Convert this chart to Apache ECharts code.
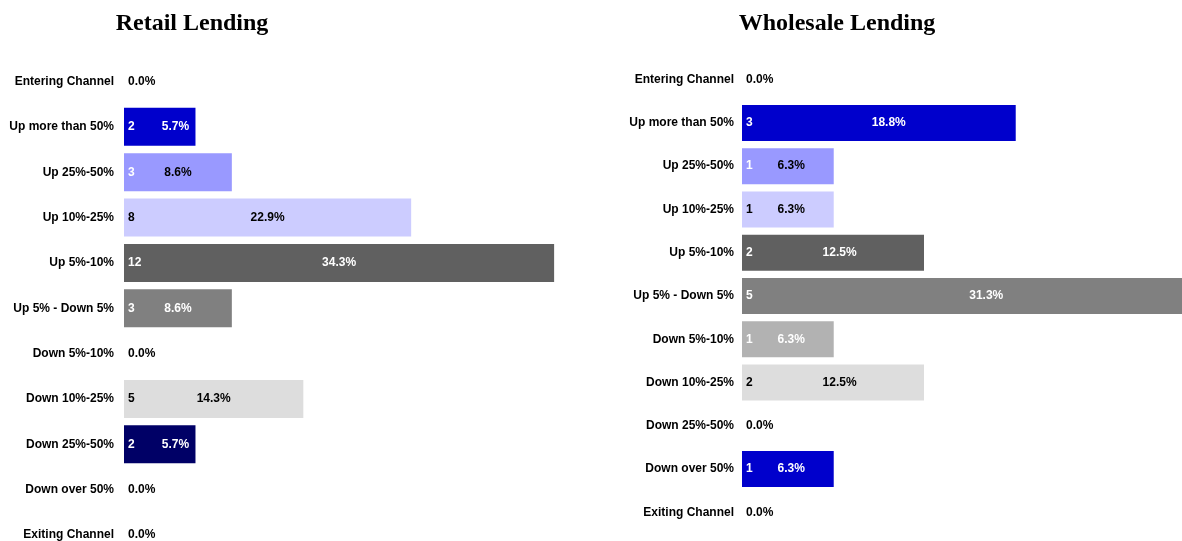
<!DOCTYPE html>
<html>
<head>
<meta charset="utf-8">
<title>Retail and Wholesale Lending</title>
<script src="https://cdn.jsdelivr.net/npm/echarts@6/dist/echarts.min.js"></script>
<style>
  html, body { margin: 0; padding: 0; background: #fff; }
  #chart { width: 1182px; height: 541px; }
</style>
</head>
<body>
<div id="chart"></div>
<script>
// Volume change buckets, top to bottom
const categories = [
  'Entering Channel', 'Up more than 50%', 'Up 25%-50%', 'Up 10%-25%', 'Up 5%-10%',
  'Up 5% - Down 5%', 'Down 5%-10%', 'Down 10%-25%', 'Down 25%-50%', 'Down over 50%', 'Exiting Channel'
];

// Retail lending: share of respondents (%) and respondent counts
const retailPct   = [0.0, 5.7, 8.6, 22.9, 34.3, 8.6, 0.0, 14.3, 5.7, 0.0, 0.0];
const retailCount = [0, 2, 3, 8, 12, 3, 0, 5, 2, 0, 0];

// Wholesale lending: share of respondents (%) and respondent counts
const wholesalePct   = [0.0, 18.8, 6.3, 6.3, 12.5, 31.3, 6.3, 12.5, 0.0, 6.3, 0.0];
const wholesaleCount = [0, 3, 1, 1, 2, 5, 1, 2, 0, 1, 0];

// Bucket colours and the ink used for the labels drawn on them
const fills    = ['#ffffff', '#0000CC', '#9999FF', '#CCCCFF', '#606060', '#808080', '#B2B2B2', '#DDDDDD', '#000066', '#0000CC', '#ffffff'];
const countInk = ['#000', '#fff', '#fff', '#000', '#fff', '#fff', '#fff', '#000', '#fff', '#fff', '#000'];
const pctInk   = ['#000', '#fff', '#000', '#000', '#fff', '#fff', '#fff', '#000', '#fff', '#fff', '#000'];

const FONT = '"Liberation Sans", Arial, Helvetica, sans-serif';
const labelBase = { fontFamily: FONT, fontWeight: 'bold', fontSize: 12 };

function barSeries(pct, idx, barWidth, pxPerUnit, pctFrac) {
  return {
    type: 'bar',
    xAxisIndex: idx, yAxisIndex: idx,
    barWidth: barWidth,
    barGap: '-100%',
    clip: false,
    animation: false,
    z: 2,
    data: pct.map((v, i) => {
      const zero = v === 0;
      const narrow = v * pxPerUnit < 80;
      return {
        value: v,
        itemStyle: { color: fills[i] },
        label: Object.assign({
          show: true,
          formatter: v.toFixed(1) + '%',
          color: zero ? '#000' : pctInk[i],
          verticalAlign: 'middle'
        }, labelBase, zero
          ? { position: 'insideLeft', distance: 4, align: 'left' }
          : { position: [(narrow ? 72 : pctFrac) + '%', '50%'], align: 'center' })
      };
    })
  };
}

function countSeries(pct, counts, idx, barWidth) {
  return {
    type: 'bar',
    xAxisIndex: idx, yAxisIndex: idx,
    barWidth: barWidth,
    barGap: '-100%',
    clip: false,
    animation: false,
    silent: true,
    z: 3,
    itemStyle: { color: 'rgba(0,0,0,0)' },
    data: pct.map((v, i) => ({
      value: v,
      label: Object.assign({
        show: counts[i] > 0,
        formatter: String(counts[i]),
        position: 'insideLeft',
        distance: 4,
        color: countInk[i]
      }, labelBase)
    }))
  };
}

const retailPx = 12.54;     // pixels per percentage point, retail panel
const wholesalePx = 14.56;  // pixels per percentage point, wholesale panel
const TITLE_FONT = 'bold 24px "Liberation Serif", "Times New Roman", serif';

const chart = echarts.init(document.getElementById('chart'), null, { renderer: 'canvas' });
chart.setOption({
  backgroundColor: '#ffffff',
  animation: false,
  graphic: [
    { type: 'text', x: 192, y: 24, style: { text: 'Retail Lending', font: TITLE_FONT, fill: '#000', align: 'center', verticalAlign: 'middle' } },
    { type: 'text', x: 837, y: 24, style: { text: 'Wholesale Lending', font: TITLE_FONT, fill: '#000', align: 'center', verticalAlign: 'middle' } }
  ],
  grid: [
    // retail rows sit on the ticks so the last row can reach the bottom edge
    { left: 124, top: 81.5, width: 36 * retailPx, height: 454 },
    { left: 742, top: 58, width: 30 * wholesalePx, height: 476 }
  ],
  xAxis: [
    { type: 'value', gridIndex: 0, min: 0, max: 36, show: false },
    { type: 'value', gridIndex: 1, min: 0, max: 30, show: false }
  ],
  yAxis: [0, 1].map(g => ({
    type: 'category',
    gridIndex: g,
    data: categories,
    inverse: true,
    boundaryGap: g === 1,
    axisLine: { show: false },
    axisTick: { show: false },
    splitLine: { show: false },
    axisLabel: Object.assign({ color: '#000', margin: g === 0 ? 10 : 8 }, labelBase)
  })),
  series: [
    barSeries(retailPct, 0, 38, retailPx, 50),
    countSeries(retailPct, retailCount, 0, 38),
    barSeries(wholesalePct, 1, 36, wholesalePx, 53.6),
    countSeries(wholesalePct, wholesaleCount, 1, 36)
  ]
});
</script>
</body>
</html>
